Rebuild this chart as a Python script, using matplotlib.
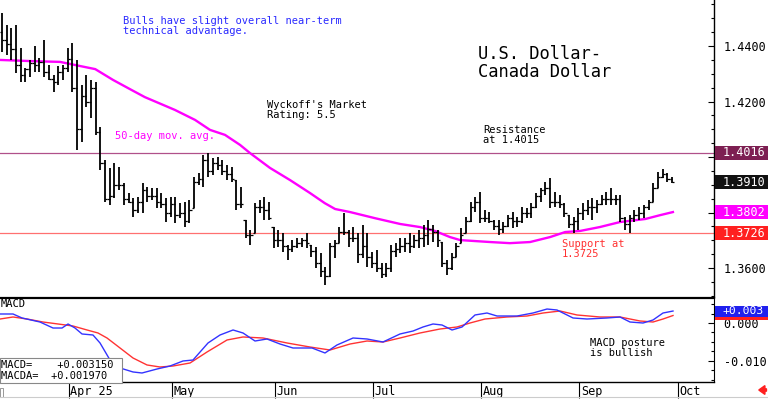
import numpy as np
import pandas as pd
import matplotlib
matplotlib.use("Agg")
import matplotlib.pyplot as plt
from matplotlib.patches import Rectangle, FancyArrow
from matplotlib.transforms import blended_transform_factory
from matplotlib.ticker import MultipleLocator, FixedLocator

# ---------------- data ----------------
high = [1.4519,1.4476,1.4465,1.4476,1.4393,1.4321,1.4350,1.4400,1.4357,1.4422,
        1.4332,1.4296,1.4328,1.4332,1.4393,1.4411,
        1.4350,1.4260,1.4296,1.4278,1.4271,1.4108,1.3989,1.3961,1.3979,1.3964,
        1.3907,1.3871,1.3853,1.3856,1.3907,1.3892,1.3889,1.3889,1.3871,1.3853,
        1.3856,1.3856,1.3835,1.3838,1.3845,1.3928,1.3943,1.4007,1.4015,1.3997,
        1.4000,1.3989,1.3971,1.3964,1.3917,1.3892,1.3773,1.3737,1.3835,1.3845,
        1.3856,1.3838,1.3748,1.3737,1.3726,1.3683,1.3701,1.3708,1.3708,1.3726,
        1.3683,1.3676,1.3654,1.3604,1.3690,1.3701,1.3748,1.3798,1.3737,1.3748,
        1.3726,1.3755,1.3726,1.3658,1.3665,1.3618,1.3618,1.3683,1.3690,1.3708,
        1.3708,1.3726,1.3719,1.3737,1.3755,1.3773,1.3755,1.3737,1.3694,1.3629,
        1.3654,1.3690,1.3744,1.3784,1.3838,1.3856,1.3874,1.3809,1.3802,1.3773,
        1.3773,1.3766,1.3791,1.3802,1.3784,1.3820,1.3817,1.3835,1.3871,1.3889,
        1.3910,1.3925,1.3874,1.3863,1.3835,1.3791,1.3784,1.3817,1.3835,1.3845,
        1.3853,1.3845,1.3863,1.3874,1.3889,1.3863,1.3863,1.3784,1.3791,1.3809,
        1.3820,1.3827,1.3845,1.3907,1.3946,1.3957,1.3943,1.3928]
low = [1.4379,1.4368,1.4350,1.4303,1.4271,1.4271,1.4289,1.4307,1.4307,1.4289,
       1.4278,1.4235,1.4260,1.4278,1.4307,1.4235,
       1.4026,1.4054,1.4180,1.4141,1.4080,1.3953,1.3838,1.3827,1.3853,1.3881,
       1.3827,1.3835,1.3784,1.3798,1.3798,1.3838,1.3845,1.3817,1.3817,1.3766,
       1.3784,1.3762,1.3780,1.3748,1.3762,1.3817,1.3899,1.3892,1.3928,1.3935,
       1.3953,1.3935,1.3917,1.3910,1.3809,1.3817,1.3708,1.3683,1.3726,1.3798,
       1.3773,1.3773,1.3672,1.3676,1.3658,1.3629,1.3658,1.3672,1.3676,1.3672,
       1.3640,1.3600,1.3568,1.3539,1.3568,1.3636,1.3690,1.3719,1.3676,1.3694,
       1.3618,1.3636,1.3604,1.3600,1.3586,1.3564,1.3568,1.3586,1.3640,1.3654,
       1.3658,1.3654,1.3672,1.3672,1.3676,1.3683,1.3694,1.3676,1.3604,1.3575,
       1.3593,1.3640,1.3690,1.3726,1.3766,1.3802,1.3762,1.3766,1.3762,1.3737,
       1.3719,1.3726,1.3748,1.3744,1.3748,1.3762,1.3780,1.3780,1.3817,1.3838,
       1.3863,1.3817,1.3820,1.3817,1.3784,1.3744,1.3726,1.3737,1.3773,1.3791,
       1.3773,1.3798,1.3827,1.3827,1.3827,1.3827,1.3766,1.3737,1.3726,1.3766,
       1.3773,1.3780,1.3809,1.3838,1.3889,1.3925,1.3910,1.3907]
close = [1.4422,1.4408,1.4390,1.4332,1.4296,1.4316,1.4340,1.4332,1.4341,1.4305,
         1.4280,1.4270,1.4305,1.4320,1.4354,1.4250,
         1.4100,1.4220,1.4200,1.4250,1.4090,1.3980,1.3850,1.3860,1.3900,1.3900,
         1.3850,1.3840,1.3810,1.3840,1.3880,1.3860,1.3860,1.3840,1.3830,1.3800,
         1.3830,1.3790,1.3800,1.3770,1.3810,1.3910,1.3920,1.3990,1.3950,1.3980,
         1.3970,1.3950,1.3940,1.3920,1.3830,1.3830,1.3720,1.3720,1.3820,1.3820,
         1.3810,1.3780,1.3700,1.3700,1.3680,1.3670,1.3680,1.3690,1.3700,1.3690,
         1.3660,1.3620,1.3590,1.3570,1.3680,1.3690,1.3730,1.3730,1.3710,1.3710,
         1.3650,1.3680,1.3640,1.3620,1.3600,1.3580,1.3600,1.3660,1.3670,1.3680,
         1.3690,1.3680,1.3700,1.3710,1.3720,1.3740,1.3730,1.3700,1.3620,1.3600,
         1.3640,1.3680,1.3720,1.3770,1.3820,1.3840,1.3780,1.3780,1.3770,1.3750,
         1.3740,1.3750,1.3780,1.3770,1.3770,1.3800,1.3800,1.3820,1.3860,1.3880,
         1.3890,1.3840,1.3840,1.3830,1.3800,1.3760,1.3770,1.3800,1.3810,1.3820,
         1.3820,1.3830,1.3850,1.3850,1.3850,1.3850,1.3780,1.3760,1.3780,1.3790,
         1.3800,1.3820,1.3840,1.3890,1.3930,1.3940,1.3920,1.3910]
first_open = 1.4450
last_date = "2025-09-29"

# 50-day moving average, read at bar positions
ma_day = [-0.4, 6.0, 12.4, 16.7, 19.9, 23.7, 27.3, 30.5, 36.9, 41.2, 44.4, 47.6,
          50.8, 52.9, 57.2, 61.5, 65.7, 68.9, 71.1, 74.3, 79.6, 85.0, 89.2, 92.4,
          95.6, 97.8, 104.2, 108.4, 112.7, 117.0, 120.2, 123.4, 127.6, 131.9,
          137.3, 140.5, 143.2]
ma_val = [1.4350, 1.4346, 1.4343, 1.4328, 1.4317, 1.4278, 1.4245, 1.4216, 1.4170,
          1.4134, 1.4098, 1.4080, 1.4044, 1.4015, 1.3961, 1.3917, 1.3871, 1.3834,
          1.3813, 1.3802, 1.3780, 1.3759, 1.3748, 1.3734, 1.3712, 1.3701, 1.3694,
          1.3690, 1.3694, 1.3712, 1.3730, 1.3734, 1.3748, 1.3766, 1.3777, 1.3791,
          1.3802]

macd_day = [-0.4, 2.35, 4.27, 8.11, 10.89, 12.81, 14.09, 15.58, 17.08, 19.42, 20.92,
            23.05, 25.19, 27.96, 29.88, 33.08, 35.86, 38.63, 40.77, 43.97, 46.53,
            49.31, 51.44, 54.0, 56.56, 59.34, 62.11, 66.17, 68.94, 71.5, 74.92,
            77.91, 81.32, 84.95, 87.73, 89.86, 92.0, 93.92, 96.05, 98.19, 100.96,
            103.52, 105.66, 109.93, 113.34, 116.33, 118.46, 121.88, 124.87, 129.14,
            131.91, 134.04, 136.82, 138.95, 141.09, 143.22]
macd_val = [0.00237, 0.00237, 0.00132, 0.00026, -0.00132, -0.00132, -0.00026,
            -0.00132, -0.00289, -0.00316, -0.00526, -0.00974, -0.01184, -0.01289,
            -0.01316, -0.01211, -0.01132, -0.01000, -0.00974, -0.00526, -0.00316,
            -0.00184, -0.00263, -0.00474, -0.00421, -0.00553, -0.00658, -0.00658,
            -0.00789, -0.00579, -0.00395, -0.00421, -0.00500, -0.00289, -0.00211,
            -0.00105, -0.00026, -0.00053, -0.00184, -0.00105, 0.00211, 0.00263,
            0.00184, 0.00184, 0.00263, 0.00368, 0.00342, 0.00132, 0.00105, 0.00132,
            0.00158, 0.00026, 0.00000, 0.00079, 0.00263, 0.00315]
sig_day = [-0.4, 2.35, 5.34, 8.75, 11.95, 15.15, 18.14, 20.49, 22.41, 25.19, 27.96,
           30.95, 33.72, 36.5, 40.13, 43.76, 48.03, 51.44, 55.71, 60.83, 65.74,
           70.01, 74.28, 77.91, 81.32, 84.95, 89.22, 93.49, 97.12, 99.89, 103.09,
           107.79, 112.06, 115.47, 119.1, 122.73, 127.64, 131.9, 136.18, 138.95,
           141.09, 143.22]
sig_val = [0.00105, 0.00158, 0.00105, 0.00026, -0.00026, -0.00079, -0.00184,
           -0.00263, -0.00395, -0.00658, -0.00921, -0.01105, -0.01158, -0.01132,
           -0.01053, -0.00763, -0.00447, -0.00368, -0.00395, -0.00526, -0.00632,
           -0.00711, -0.00553, -0.00474, -0.00500, -0.00395, -0.00263, -0.00158,
           -0.00105, 0.00000, 0.00105, 0.00158, 0.00184, 0.00263, 0.00316, 0.00211,
           0.00158, 0.00158, 0.00053, 0.00026, 0.00105, 0.00197]

resistance = 1.4015
resistance_tag = 1.4016
support = 1.3725
support_tag = 1.3726
last_close = 1.3910
ma_last = 1.3802
macd_last = 0.003150
macda_last = 0.001970
price_ticks = [1.36, 1.38, 1.40, 1.42, 1.44]
price_tick_labels = ["1.3600", "", "", "1.4200", "1.4400"]   # 1.38/1.40 sit under tags
macd_ticks = [-0.010, 0.000]
month_labels = ["Apr 25", "May", "Jun", "Jul", "Aug", "Sep", "Oct"]

# ---------------- figure ----------------
W, H = 768, 399
fig = plt.figure(figsize=(W / 100, H / 100), dpi=100)
MONO = "DejaVu Sans Mono"
RIGHT = 714 / W

def fy(py):
    return 1 - py / H

n = len(high)
idx = np.arange(n)
opens = np.clip(np.array([first_open] + close[:-1]), low, high)
dates = pd.bdate_range(end=last_date, periods=n)
months = dates.to_period("M")
mstarts = [i for i in range(1, n) if months[i] != months[i - 1]] + [n]
xlim = (-0.43, 151.97)

# price panel
ax = fig.add_axes([0, fy(297), RIGHT, fy(0) - fy(297)])
ax.set_xlim(*xlim)
ax.set_ylim(1.3496, 1.4566)
for s in ["top", "left", "bottom"]:
    ax.spines[s].set_visible(False)
ax.spines["right"].set_linewidth(1.0)
ax.set_xticks([])
ax.yaxis.tick_right()
ax.yaxis.set_major_locator(FixedLocator(price_ticks))
ax.yaxis.set_minor_locator(MultipleLocator(0.005))
ax.set_yticklabels(price_tick_labels, family=MONO, fontsize=8.5)
ax.tick_params(axis="y", which="major", direction="in", length=4, pad=7, width=0.8)
ax.tick_params(axis="y", which="minor", direction="in", length=2, width=0.8)

ax.axhline(resistance, color="#b0508a", lw=0.9, zorder=1)
ax.axhline(support, color="#ff7070", lw=0.9, zorder=1)
ax.plot(ma_day, ma_val, color="#ff00ff", lw=1.7, zorder=2)
ax.vlines(idx, low, high, color="black", lw=1.3, zorder=3)
ax.hlines(opens, idx - 0.5, idx, color="black", lw=0.9, zorder=3)
ax.hlines(close, idx, idx + 0.5, color="black", lw=0.9, zorder=3)

def side_box(a, value, fc, half):
    tr = blended_transform_factory(a.transAxes, a.transData)
    a.add_patch(Rectangle((1.0015, value - half), 0.09, 2 * half, transform=tr,
                          fc=fc, ec="none", clip_on=False, zorder=5))

def side_tag(a, value, text, fc, half, fs=8.5):
    side_box(a, value, fc, half)
    tr = blended_transform_factory(a.transAxes, a.transData)
    a.text(1.012, value, text, transform=tr, color="white", fontsize=fs,
           family=MONO, va="center", ha="left", clip_on=False, zorder=6)

side_tag(ax, resistance_tag, f"{resistance_tag:.4f}", "#7d1f52", 0.0025)
side_tag(ax, last_close, f"{last_close:.4f}", "#111111", 0.0025)
side_tag(ax, ma_last, f"{ma_last:.4f}", "#ff00ff", 0.0025)
side_tag(ax, support_tag, f"{support_tag:.4f}", "#ff2020", 0.0025)

# MACD panel
ax2 = fig.add_axes([0, fy(382), RIGHT, fy(298) - fy(382)])
ax2.set_xlim(*xlim)
ax2.set_ylim(-0.01553, 0.00658)
ax2.spines["left"].set_visible(False)
ax2.spines["top"].set_linewidth(1.6)
ax2.spines["bottom"].set_linewidth(1.0)
ax2.set_xticks([])
ax2.yaxis.tick_right()
ax2.yaxis.set_major_locator(FixedLocator(macd_ticks))
ax2.yaxis.set_minor_locator(MultipleLocator(0.0025))
ax2.set_yticklabels([f"{v:.3f}" for v in macd_ticks], family=MONO, fontsize=8.5)
ax2.tick_params(axis="y", which="major", direction="in", length=4, pad=7, width=0.8)
ax2.tick_params(axis="y", which="minor", direction="in", length=2, width=0.8)
ax2.plot(sig_day, sig_val, color="#ff3333", lw=1.0)
ax2.plot(macd_day, macd_val, color="#3333ff", lw=1.0)
side_box(ax2, macda_last, "#ff2020", 0.0011)
side_tag(ax2, macd_last, f"+{macd_last:.3f}", "#2020ee", 0.00145, fs=8.2)

# date strip
ax3 = fig.add_axes([0, 0, RIGHT, fy(382)])
ax3.set_xlim(*xlim)
ax3.set_ylim(0, 1)
ax3.axis("off")
for pos, lab in zip(mstarts, month_labels):
    ax3.vlines(pos + 0.2, 0.05, 1, color="black", lw=0.8)
    ax3.text(pos + 0.55, 0.45, lab, family=MONO, fontsize=8.5, va="center", ha="left")
fig.add_artist(plt.Line2D([0, 1], [0.004, 0.004], transform=fig.transFigure,
                          color="#cccccc", lw=0.8))

# annotations
fig.text(123 / W, fy(16), "Bulls have slight overall near-term\ntechnical advantage.",
         family=MONO, fontsize=7.5, color="#2a2aff", va="top", linespacing=1.05)
fig.text(478 / W, fy(45), "U.S. Dollar-\nCanada Dollar", family=MONO, fontsize=12.3,
         color="black", va="top", linespacing=1.0)
fig.text(267 / W, fy(100), "Wyckoff's Market\nRating: 5.5", family=MONO, fontsize=7.5,
         va="top", linespacing=1.05)
fig.text(115 / W, fy(136), "50-day mov. avg.", family=MONO, fontsize=7.5,
         color="#ff00ff", va="center")
fig.text(483 / W, fy(125), "Resistance\nat 1.4015", family=MONO, fontsize=7.5,
         va="top", linespacing=1.05)
fig.text(562 / W, fy(239), "Support at\n1.3725", family=MONO, fontsize=7.5,
         color="#ff3030", va="top", linespacing=1.05)
fig.text(1 / W, fy(304), "MACD", family=MONO, fontsize=7.5, va="center")
fig.text(590 / W, fy(338), "MACD posture\nis bullish", family=MONO, fontsize=7.5,
         va="top", linespacing=1.05)

fig.add_artist(Rectangle((0, fy(383)), 122 / W, 25 / H, transform=fig.transFigure,
                         fc="white", ec="#888888", lw=0.8, zorder=3))
fig.text(1 / W, fy(370.5), f"MACD=    +{macd_last:.6f}\nMACDA=  +{macda_last:.6f}",
         family=MONO, fontsize=7.5, va="center", linespacing=1.05, zorder=4)

fig.add_artist(FancyArrow(0.998, fy(390), -0.010, 0, width=0.006, head_width=0.022,
                          head_length=0.008, length_includes_head=True,
                          transform=fig.transFigure, color="#ff2020"))
fig.add_artist(Rectangle((0, fy(397)), 3 / W, 9 / H, transform=fig.transFigure,
                         fc="white", ec="#888888", lw=0.6))

fig.savefig("out.png", dpi=100, facecolor="white")
